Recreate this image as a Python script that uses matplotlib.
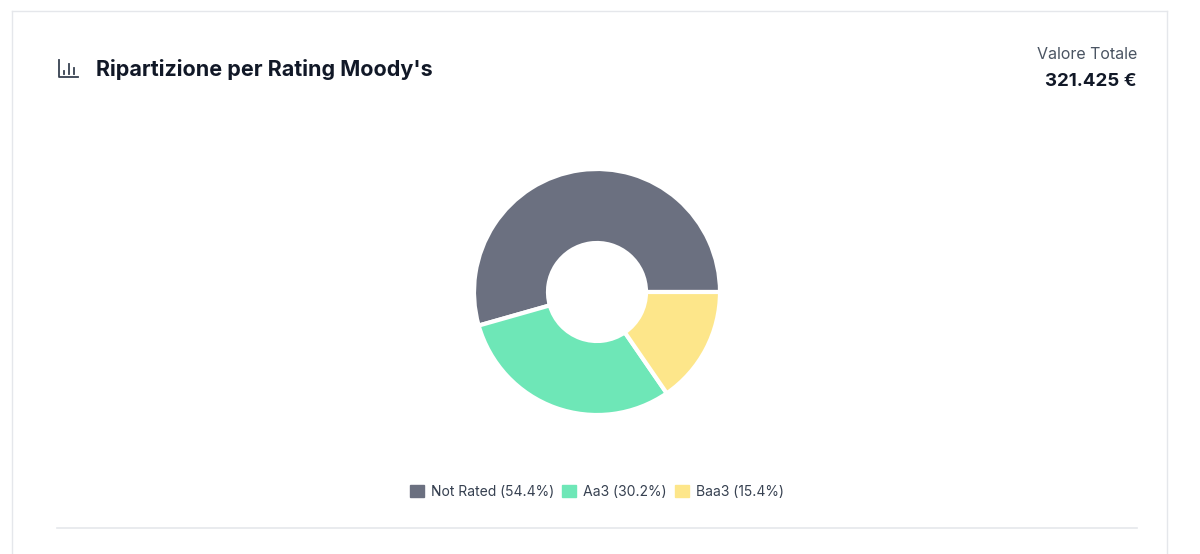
import matplotlib.pyplot as plt
from matplotlib.patches import Rectangle

labels = ["Not Rated", "Aa3", "Baa3"]
shares = [54.4, 30.2, 15.4]
colors = ["#6b7080", "#6ee7b7", "#fde68a"]

W, H = 1200, 554
fig = plt.figure(figsize=(12, 5.54), dpi=100)
plt.rcParams["font.family"] = "Inter"

def fx(x):
    return x / W

def fy(y):
    return 1 - y / H

# card border
fig.add_artist(plt.Line2D([fx(12), fx(12)], [fy(11), 0], color="#e5e7eb", lw=1))
fig.add_artist(plt.Line2D([fx(1167), fx(1167)], [fy(11), 0], color="#e5e7eb", lw=1))
fig.add_artist(plt.Line2D([fx(12), fx(1167)], [fy(11), fy(11)], color="#e5e7eb", lw=1))
fig.add_artist(plt.Line2D([fx(57), fx(1137)], [fy(528), fy(528)], color="#e5e7eb", lw=1.2))

# icon
ic = "#374151"
fig.add_artist(plt.Line2D([fx(59), fx(59), fx(78)], [fy(60), fy(77), fy(77)], color=ic, lw=1.3))
for x, top in [(64, 71), (69, 64), (74, 68)]:
    fig.add_artist(plt.Line2D([fx(x), fx(x)], [fy(top), fy(74)], color=ic, lw=1.3))

fig.text(fx(96), fy(69), "Ripartizione per Rating Moody's", fontsize=15.5, fontweight="bold",
         color="#111827", va="center")
fig.text(fx(1137), fy(54), "Valore Totale", fontsize=11.5, color="#4b5563", ha="right", va="center")
fig.text(fx(1137), fy(81), "321.425 €", fontsize=13.5, fontweight="bold", color="#111827",
         ha="right", va="center")

ax = fig.add_axes([fx(597 - 125), fy(292 + 125), 250 / W, 250 / H])
ax.pie(shares, colors=colors, startangle=0, counterclock=True, radius=1,
       wedgeprops=dict(width=1 - 49 / 123, edgecolor="white", linewidth=3))
ax.set_xlim(-125 / 123, 125 / 123)
ax.set_ylim(-125 / 123, 125 / 123)
ax.set_aspect("equal")
ax.axis("off")

handles = [Rectangle((0, 0), 1, 1, color=c) for c in colors]
leg_labels = [f"{l} ({s}%)" for l, s in zip(labels, shares)]
fig.legend(handles, leg_labels, loc="center", bbox_to_anchor=(fx(597), fy(492)), ncol=3,
           frameon=False, fontsize=10, handlelength=1.0, handleheight=1.0,
           handletextpad=0.5, columnspacing=0.6, labelcolor="#374151")

fig.savefig("out.png", dpi=100, facecolor="white")
